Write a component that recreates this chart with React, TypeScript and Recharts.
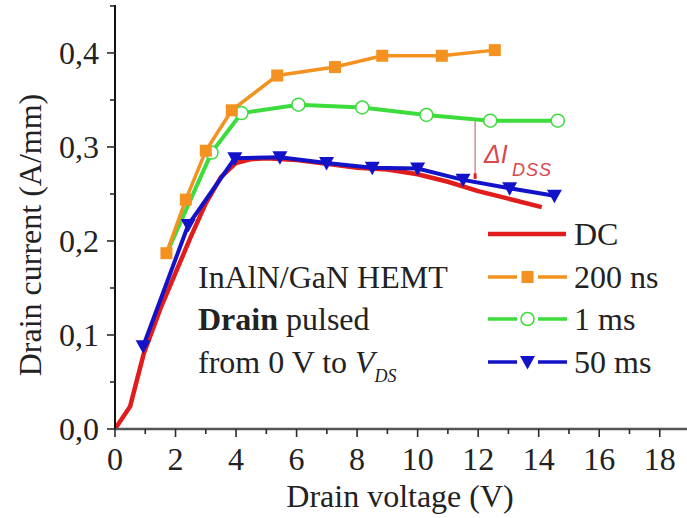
import React from "react";
import {
  LineChart, Line, XAxis, YAxis, ReferenceLine, Customized,
} from "recharts";

// ── data ─────────────────────────────────────────────────────────────────────

const dcData = [
  { v: 0, i: 0 }, { v: 0.5, i: 0.024 }, { v: 0.95, i: 0.08 }, { v: 1.5, i: 0.128 },
  { v: 2, i: 0.166 }, { v: 2.5, i: 0.204 }, { v: 3, i: 0.24 }, { v: 3.5, i: 0.268 },
  { v: 4, i: 0.283 }, { v: 4.5, i: 0.287 }, { v: 5, i: 0.288 }, { v: 6, i: 0.286 },
  { v: 7, i: 0.282 }, { v: 8, i: 0.278 }, { v: 9, i: 0.276 }, { v: 10, i: 0.271 },
  { v: 11, i: 0.263 }, { v: 12, i: 0.253 }, { v: 13, i: 0.245 }, { v: 14.1, i: 0.236 },
];

const ns200Data = [
  { v: 1.7, i: 0.187 }, { v: 2.34, i: 0.244 }, { v: 3.0, i: 0.296 }, { v: 3.86, i: 0.339 },
  { v: 5.36, i: 0.376 }, { v: 7.27, i: 0.385 }, { v: 8.83, i: 0.397 }, { v: 10.8, i: 0.397 },
  { v: 12.55, i: 0.403 },
];

// first point has no visible marker in the source (hidden under the 200 ns square)
const ms1Data = [
  { v: 1.75, i: 0.19 }, { v: 3.19, i: 0.294 }, { v: 4.18, i: 0.336 }, { v: 6.06, i: 0.345 },
  { v: 8.17, i: 0.342 }, { v: 10.29, i: 0.334 }, { v: 12.4, i: 0.328 }, { v: 14.63, i: 0.328 },
];

const ms50Data = [
  { v: 0.93, i: 0.088 }, { v: 2.42, i: 0.217 }, { v: 3.96, i: 0.288 }, { v: 5.45, i: 0.289 },
  { v: 6.99, i: 0.283 }, { v: 8.5, i: 0.278 }, { v: 10.0, i: 0.277 }, { v: 11.5, i: 0.265 },
  { v: 13.04, i: 0.256 }, { v: 14.52, i: 0.248 },
];

const xTicks = [0, 1, 2, 3, 4, 5, 6, 7, 8, 9, 10, 11, 12, 13, 14, 15, 16, 17, 18, 19];
const yTicks = [0, 0.05, 0.1, 0.15, 0.2, 0.25, 0.3, 0.35, 0.4, 0.45];

const seriesNames = ["DC", "200 ns", "1 ms", "50 ms"];
const seriesColors = ["#e01c1c", "#f39220", "#3ddc3d", "#1212c8"];

const FONT = "'Liberation Serif', 'Times New Roman', serif";
const AXIS = "#2a2a2a";
const FS = 32;

// ── markers ──────────────────────────────────────────────────────────────────

function Marker({ kind, cx, cy }: { kind: number; cx: number; cy: number }) {
  if (kind === 1) return <rect x={cx - 6} y={cy - 6} width={12} height={12} fill={seriesColors[1]} />;
  if (kind === 2) return <circle cx={cx} cy={cy} r={6.5} fill="#fff" stroke={seriesColors[2]} strokeWidth={1.5} />;
  if (kind === 3) return <path d={`M${cx - 7.5},${cy - 6} L${cx + 7.5},${cy - 6} L${cx},${cy + 7.5} Z`} fill={seriesColors[3]} />;
  return null;
}

const dotFor = (kind: number, skipFirst = false) => (p: any) =>
  skipFirst && p.index === 0
    ? <g key={`m${kind}-${p.index}`} />
    : <Marker key={`m${kind}-${p.index}`} kind={kind} cx={p.cx} cy={p.cy} />;

// ── axis ticks ───────────────────────────────────────────────────────────────

const fmtY = (v: number) => v.toFixed(1).replace(".", ",");
const isMajorY = (v: number) => Math.round(v * 100) % 10 === 0;

function BottomTick({ x, y, payload }: any) {
  const major = payload.value % 2 === 0;
  return (
    <g>
      <line x1={x} x2={x} y1={y} y2={y + (major ? 8 : 5)} stroke={AXIS} strokeWidth={1.6} />
      {major && payload.value <= 18 && (
        <text x={x} y={y + 41} textAnchor="middle" fontSize={FS} fontFamily={FONT} fill="#222">
          {payload.value}
        </text>
      )}
    </g>
  );
}

function TopTick({ x, y, payload }: any) {
  const major = payload.value % 2 === 0;
  return <line x1={x} x2={x} y1={y} y2={y + (major ? 9 : 6)} stroke={AXIS} strokeWidth={1.6} />;
}

function LeftTick({ x, y, payload }: any) {
  const major = isMajorY(payload.value);
  return (
    <g>
      <line x1={x - (major ? 8 : 5)} x2={x} y1={y} y2={y} stroke={AXIS} strokeWidth={1.6} />
      {major && payload.value < 0.45 && (
        <text x={x - 16} y={y + 11} textAnchor="end" fontSize={FS} fontFamily={FONT} fill="#222">
          {fmtY(payload.value)}
        </text>
      )}
    </g>
  );
}

function RightTick({ x, y, payload }: any) {
  const major = isMajorY(payload.value);
  return <line x1={x - (major ? 8 : 5)} x2={x} y1={y} y2={y} stroke={AXIS} strokeWidth={1.6} />;
}

// ── overlay: annotation, legend, axis titles ─────────────────────────────────

function Overlay() {
  const rows = [245, 288, 330, 373];
  return (
    <g fontFamily={FONT} fill="#222">
      <text x={30} y={235} transform="rotate(-90 30 235)" textAnchor="middle" dominantBaseline="central" fontSize={FS}>
        Drain current (A/mm)
      </text>
      <text x={400} y={507} textAnchor="middle" fontSize={FS}>Drain voltage (V)</text>

      <text x={198} y={288} fontSize={FS}>InAlN/GaN HEMT</text>
      <text x={198} y={330} fontSize={FS}>
        <tspan fontWeight="bold">Drain</tspan> pulsed
      </text>
      <text x={198} y={373} fontSize={FS}>
        from 0 V to <tspan fontStyle="italic">V</tspan>
        <tspan fontStyle="italic" fontSize={18} dy={9}>DS</tspan>
      </text>

      <g fontFamily="'Liberation Sans', Arial, sans-serif" fontStyle="italic" fill="#d9484c">
        <text x={484} y={163} fontSize={25}>ΔI</text>
        <text x={512} y={176} fontSize={18} letterSpacing={1}>DSS</text>
      </g>

      {seriesNames.map((name, k) => {
        const y = rows[k];
        const cy = y - 11;
        const c = seriesColors[k];
        return (
          <g key={name}>
            {k === 0 ? (
              <line x1={488} x2={566} y1={cy} y2={cy} stroke={c} strokeWidth={4.5} />
            ) : (
              <>
                <line x1={488} x2={517} y1={cy} y2={cy} stroke={c} strokeWidth={3.5} />
                <line x1={538} x2={567} y1={cy} y2={cy} stroke={c} strokeWidth={3.5} />
                <Marker kind={k} cx={527.5} cy={cy} />
              </>
            )}
            <text x={574} y={y} fontSize={FS}>{name}</text>
          </g>
        );
      })}
    </g>
  );
}

// ── chart ────────────────────────────────────────────────────────────────────

export default function App() {
  return (
    <div style={{ position: "absolute", left: 0, top: 0, width: 687, height: 518, overflow: "hidden", background: "#fff" }}>
      <LineChart width={692} height={518} margin={{ top: 5, right: 2, left: 0, bottom: 0 }}>
        <XAxis
          xAxisId="b" dataKey="v" type="number" domain={[0, 19]} ticks={xTicks} interval={0}
          height={89} tickSize={0} tickMargin={0} tick={<BottomTick />}
          axisLine={{ stroke: "#555", strokeWidth: 2.4 }} allowDataOverflow
        />
        <XAxis
          xAxisId="t" orientation="top" dataKey="v" type="number" domain={[0, 19]} ticks={xTicks} interval={0}
          height={0} tickSize={0} tickMargin={0} tick={<TopTick />}
          axisLine={{ stroke: AXIS, strokeWidth: 2 }} allowDataOverflow
        />
        <YAxis
          yAxisId="l" type="number" domain={[0, 0.451]} ticks={yTicks} interval={0}
          width={115} tickSize={0} tickMargin={0} tick={<LeftTick />}
          axisLine={{ stroke: "#111", strokeWidth: 2 }} allowDataOverflow
        />
        <YAxis
          yAxisId="r" orientation="right" type="number" domain={[0, 0.451]} ticks={yTicks} interval={0}
          width={0} tickSize={0} tickMargin={0} tick={<RightTick />}
          axisLine={{ stroke: AXIS, strokeWidth: 2 }} allowDataOverflow
        />

        <ReferenceLine
          xAxisId="b" yAxisId="l"
          segment={[{ x: 11.9, y: 0.329 }, { x: 11.9, y: 0.268 }]}
          stroke="#c98080" strokeWidth={1.3}
        />
        <ReferenceLine
          xAxisId="b" yAxisId="l"
          segment={[{ x: 11.9, y: 0.272 }, { x: 11.9, y: 0.266 }]}
          stroke="#e02020" strokeWidth={3}
        />

        <Line xAxisId="b" yAxisId="l" data={dcData} dataKey="i" name={seriesNames[0]}
          stroke={seriesColors[0]} strokeWidth={4.5} dot={false} isAnimationActive={false} />
        <Line xAxisId="b" yAxisId="l" data={ms50Data} dataKey="i" name={seriesNames[3]}
          stroke={seriesColors[3]} strokeWidth={4} dot={dotFor(3)} isAnimationActive={false} />
        <Line xAxisId="b" yAxisId="l" data={ms1Data} dataKey="i" name={seriesNames[2]}
          stroke={seriesColors[2]} strokeWidth={4} dot={dotFor(2, true)} isAnimationActive={false} />
        <Line xAxisId="b" yAxisId="l" data={ns200Data} dataKey="i" name={seriesNames[1]}
          stroke={seriesColors[1]} strokeWidth={3.5} dot={dotFor(1)} isAnimationActive={false} />

        <Customized component={<Overlay />} />
      </LineChart>
    </div>
  );
}
